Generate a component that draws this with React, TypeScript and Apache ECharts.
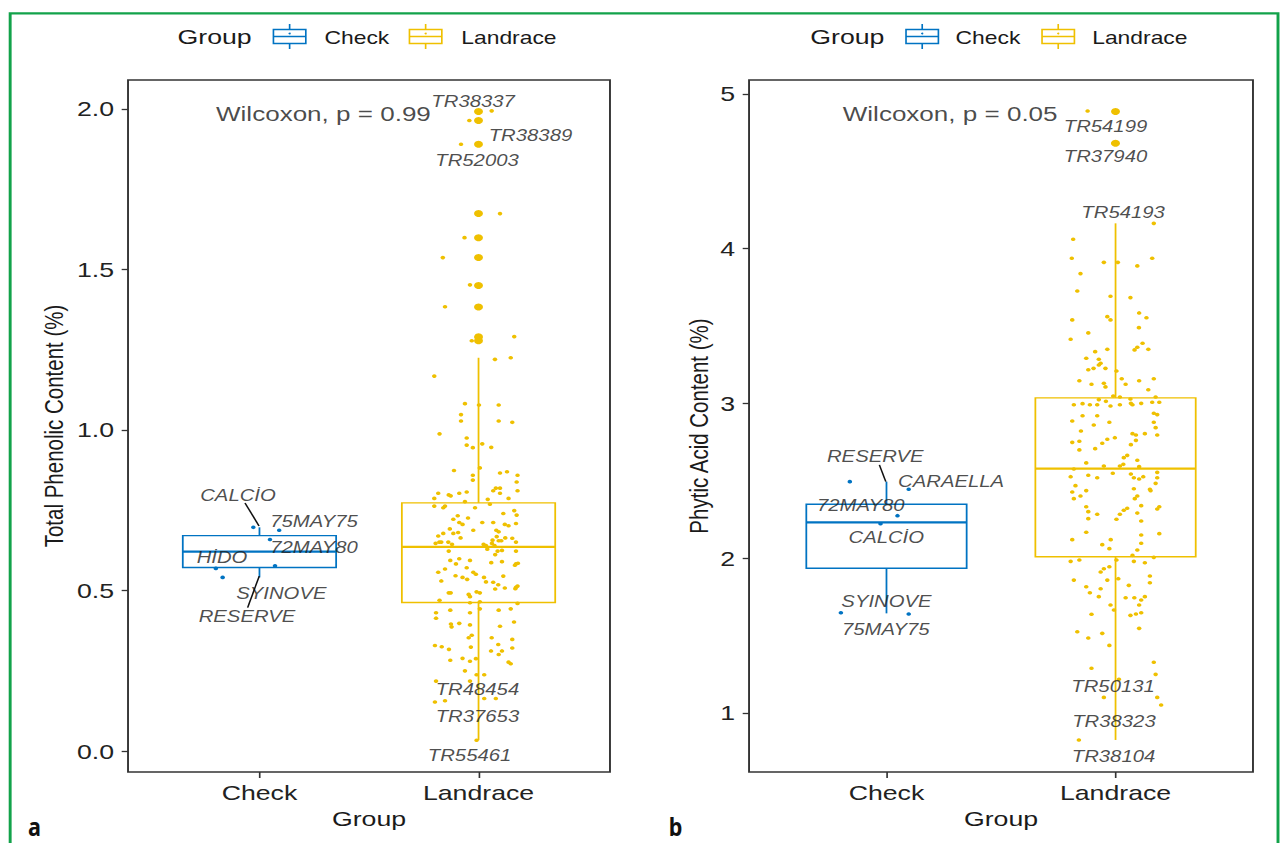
import React, { useEffect, useRef } from "react";
import * as echarts from "echarts";

// The reference figure is horizontally stretched; the chart is drawn at
// natural proportions and stretched by CSS to match.
const STRETCH = 1.27;
const PAGE_W = 1281;
const PAGE_H = 843;
const CHART_W = PAGE_W / STRETCH;

const FONT = "'Liberation Sans', Arial, Helvetica, sans-serif";
const groups = ["Check", "Landrace"];
const groupColors = ["#0073C2", "#EFC000"];
const xRange = [0.4, 2.6];
const xTicks = [1, 2];

// ---------------- Panel a: Total Phenolic Content ----------------
const phenolTitle = "Total Phenolic Content (%)";
const phenolRange = [-0.065, 2.09];
const phenolTicks = [0, 0.5, 1, 1.5, 2];
// [min, Q1, median, Q3, max] per group
const phenolCheckBox = [0.541, 0.572, 0.621, 0.671, 0.697];
const phenolLandraceBox = [0.034, 0.463, 0.636, 0.773, 1.225];
const phenolOutliers = [1.992, 1.964, 1.89, 1.674, 1.599, 1.537, 1.45, 1.383, 1.29, 1.278];
// [jitter offset, value]
const phenolCheckPts = [
  [-0.028, 0.697], [0.09, 0.688], [0.048, 0.659], [-0.199, 0.569], [-0.168, 0.541], [0.071, 0.577],
];
const phenolLandracePts = [
  [0.06, 1.994], [-0.042, 1.964], [-0.08, 1.89], [0.098, 1.674], [-0.064, 1.599], [-0.163, 1.537], [-0.039, 1.452], [-0.153, 1.384], [0.163, 1.291], [-0.031, 1.278],
  [0.075, 1.22], [0.147, 1.225], [-0.202, 1.168], [-0.062, 1.082], [0.002, 1.078], [0.092, 1.078], [-0.08, 1.048], [-0.08, 1.028], [0.092, 1.028], [0.154, 1.024],
  [-0.178, 0.988], [-0.054, 0.975], [-0.054, 0.953], [-0.026, 0.945], [0.017, 0.957], [0.058, 0.946], [-0.112, 0.874], [0.006, 0.882], [-0.026, 0.859], [-0.026, 0.844],
  [0.098, 0.866], [0.13, 0.87], [0.178, 0.859], [0.174, 0.838], [0.178, 0.811], [0.067, 0.811], [0.079, 0.819], [0.098, 0.819], [0.098, 0.803], [0.137, 0.787],
  [0.042, 0.784], [0.052, 0.769], [-0.184, 0.803], [-0.202, 0.787], [-0.136, 0.798], [-0.127, 0.795], [-0.088, 0.803], [-0.054, 0.807], [-0.202, 0.763], [-0.161, 0.758],
  [-0.153, 0.763], [-0.062, 0.777], [-0.016, 0.758], [0.113, 0.74], [0.163, 0.749], [0.174, 0.735], [-0.095, 0.733], [-0.115, 0.722], [-0.048, 0.726], [-0.088, 0.712],
  [-0.073, 0.706], [0.017, 0.712], [0.067, 0.712], [0.12, 0.706], [0.137, 0.702], [0.171, 0.709], [-0.131, 0.692], [-0.024, 0.688], [0.081, 0.688], [0.092, 0.683],
  [-0.115, 0.678], [-0.093, 0.681], [-0.161, 0.678], [-0.184, 0.67], [-0.082, 0.664], [0.083, 0.668], [0.122, 0.664], [0.064, 0.657], [0.092, 0.655], [0.104, 0.655],
  [0.154, 0.663], [0.171, 0.651], [-0.196, 0.647], [-0.179, 0.651], [-0.17, 0.651], [-0.138, 0.651], [-0.121, 0.644], [0.023, 0.644], [0.034, 0.64], [0.061, 0.647],
  [0.073, 0.64], [-0.136, 0.623], [0.04, 0.629], [0.087, 0.623], [0.107, 0.625], [0.171, 0.623], [0.076, 0.612], [-0.129, 0.594], [-0.039, 0.594], [-0.103, 0.583],
  [-0.088, 0.599], [0.058, 0.587], [0.107, 0.59], [0.171, 0.583], [0.18, 0.585], [0.166, 0.579], [-0.153, 0.567], [-0.054, 0.571], [-0.184, 0.557], [-0.024, 0.557],
  [-0.012, 0.551], [-0.105, 0.546], [-0.073, 0.541], [-0.052, 0.535], [0.025, 0.541], [0.034, 0.527], [0.113, 0.545], [-0.17, 0.53], [0.067, 0.526], [0.09, 0.518],
  [0.12, 0.508], [0.076, 0.505], [0.171, 0.51], [0.178, 0.514], [0.168, 0.506], [-0.136, 0.493], [-0.127, 0.493], [-0.045, 0.488], [-0.009, 0.496], [0.006, 0.493],
  [-0.039, 0.481], [-0.178, 0.47], [-0.039, 0.462], [0.006, 0.465], [0.178, 0.46], [-0.194, 0.431], [-0.129, 0.439], [-0.039, 0.431], [0.006, 0.443], [0.092, 0.439],
  [0.147, 0.443], [-0.194, 0.414], [-0.126, 0.396], [-0.123, 0.387], [-0.088, 0.398], [-0.039, 0.393], [0.098, 0.389], [0.162, 0.402], [-0.031, 0.361], [-0.045, 0.353],
  [0.06, 0.353], [0.09, 0.332], [0.154, 0.348], [-0.199, 0.329], [-0.168, 0.325], [-0.135, 0.317], [-0.035, 0.324], [0.057, 0.312], [0.107, 0.312], [0.154, 0.321],
  [0.092, 0.301], [-0.129, 0.283], [-0.073, 0.289], [-0.039, 0.28], [-0.012, 0.288], [0.137, 0.277], [0.147, 0.272], [-0.062, 0.25], [-0.009, 0.238], [0.026, 0.238],
  [-0.194, 0.218], [-0.039, 0.218], [0.026, 0.164], [0.079, 0.164], [-0.199, 0.153], [-0.153, 0.157], [-0.009, 0.034],
];
const phenolLabelNames = ["CALCİO", "75MAY75", "72MAY80", "HİDO", "SYINOVE", "RESERVE", "TR38337", "TR38389", "TR52003", "TR48454", "TR37653", "TR55461"];
const phenolLabelAt = [
  [0.902, 0.796], [1.249, 0.717], [1.249, 0.636], [0.829, 0.604], [1.1, 0.493], [0.943, 0.421],
  [1.975, 2.023], [2.237, 1.919], [1.993, 1.841], [1.995, 0.192], [1.995, 0.107], [1.959, -0.012],
];
// [x1, y1, x2, y2]
const phenolLeaders = [
  [0.934, 0.773, 0.998, 0.701],
  [0.999, 0.545, 0.946, 0.447],
];
const phenolTest = "Wilcoxon, p = 0.99";
const phenolTestAt = [1.292, 1.983];

// ---------------- Panel b: Phytic Acid Content ----------------
const phyticTitle = "Phytic Acid Content (%)";
const phyticRange = [0.619, 5.09];
const phyticTicks = [1, 2, 3, 4, 5];
const phyticCheckBox = [1.644, 1.935, 2.232, 2.349, 2.495];
const phyticLandraceBox = [0.826, 2.01, 2.579, 3.036, 4.164];
const phyticOutliers = [4.886, 4.681];
const phyticCheckPts = [
  [-0.16, 2.495], [0.097, 2.446], [0.048, 2.275], [-0.026, 2.223], [-0.199, 1.648], [0.097, 1.64],
];
const phyticLandracePts = [
  [-0.122, 4.89], [-0.01, 4.681], [0.167, 4.164], [-0.185, 4.061], [-0.191, 3.938], [-0.051, 3.912], [0.01, 3.912], [0.16, 3.938], [0.095, 3.889], [-0.153, 3.839],
  [-0.167, 3.727], [-0.022, 3.693], [0.065, 3.684], [-0.189, 3.54], [-0.036, 3.561], [-0.022, 3.54], [0.103, 3.585], [0.135, 3.554], [0.102, 3.49], [-0.119, 3.456],
  [-0.196, 3.415], [0.118, 3.389], [0.095, 3.363], [0.083, 3.346], [0.143, 3.35], [-0.036, 3.35], [-0.089, 3.335], [-0.128, 3.292], [-0.073, 3.286], [-0.065, 3.26],
  [-0.073, 3.249], [-0.096, 3.227], [-0.119, 3.218], [-0.044, 3.227], [0.004, 3.21], [-0.158, 3.147], [-0.105, 3.124], [-0.051, 3.131], [-0.044, 3.107], [0.027, 3.16],
  [0.044, 3.124], [0.103, 3.147], [0.167, 3.16], [0.143, 3.089], [-0.01, 3.048], [-0.073, 3.025], [0.019, 3.042], [-0.042, 3.014], [0.065, 3.029], [0.175, 3.042],
  [-0.182, 2.992], [-0.144, 2.999], [-0.112, 2.992], [-0.08, 2.992], [-0.022, 2.984], [0.019, 2.992], [0.067, 3.001], [0.074, 2.992], [0.112, 3.001], [0.16, 3.008],
  [0.191, 3.008], [-0.189, 2.887], [-0.144, 2.921], [-0.08, 2.921], [-0.027, 2.879], [-0.095, 2.861], [0.167, 2.937], [0.182, 2.928], [0.167, 2.879], [0.175, 2.844],
  [-0.151, 2.822], [0.074, 2.805], [0.089, 2.796], [0.128, 2.805], [0.182, 2.796], [-0.036, 2.769], [-0.003, 2.779], [-0.189, 2.749], [-0.158, 2.756], [0.089, 2.762],
  [-0.058, 2.743], [0.067, 2.734], [-0.158, 2.7], [-0.089, 2.708], [0.051, 2.665], [0.036, 2.65], [0.095, 2.633], [-0.128, 2.616], [-0.051, 2.596], [0.019, 2.596],
  [0.034, 2.607], [0.103, 2.592], [-0.182, 2.577], [-0.196, 2.527], [-0.119, 2.536], [-0.08, 2.52], [-0.012, 2.549], [0.067, 2.544], [0.08, 2.52], [0.103, 2.512],
  [0.121, 2.527], [0.182, 2.555], [0.182, 2.52], [-0.175, 2.469], [0.08, 2.449], [0.15, 2.446], [0.175, 2.484], [-0.189, 2.428], [-0.128, 2.437], [-0.153, 2.402],
  [-0.182, 2.385], [0.095, 2.402], [0.084, 2.385], [0.153, 2.437], [-0.128, 2.333], [-0.119, 2.301], [-0.119, 2.256], [-0.08, 2.284], [0.004, 2.252], [0.019, 2.284],
  [0.036, 2.31], [0.051, 2.323], [0.095, 2.292], [0.112, 2.34], [0.112, 2.241], [0.182, 2.318], [0.191, 2.333], [-0.128, 2.168], [0.191, 2.159], [-0.189, 2.12],
  [-0.058, 2.088], [-0.021, 2.12], [-0.027, 2.062], [0.112, 2.15], [0.112, 2.097], [0.095, 2.053], [0.074, 2.019], [-0.196, 1.98], [-0.158, 1.989], [0.004, 1.989],
  [0.08, 1.98], [0.128, 1.971], [0.167, 2.006], [-0.027, 1.945], [-0.051, 1.932], [-0.065, 1.911], [-0.182, 1.859], [-0.036, 1.859], [0.012, 1.868], [0.15, 1.885],
  [0.15, 1.842], [0.058, 1.825], [-0.128, 1.816], [-0.065, 1.803], [-0.112, 1.777], [-0.073, 1.752], [0.044, 1.745], [0.082, 1.745], [0.112, 1.73], [0.128, 1.752],
  [0.103, 1.698], [-0.022, 1.698], [-0.007, 1.666], [0.065, 1.631], [0.089, 1.64], [0.112, 1.648], [-0.105, 1.638], [0.103, 1.547], [-0.167, 1.525], [-0.119, 1.485],
  [-0.058, 1.515], [-0.027, 1.437], [0.167, 1.328], [0.175, 1.25], [-0.105, 1.289], [0.015, 1.218], [-0.051, 1.101], [0.182, 1.101], [0.199, 1.052], [-0.16, 0.826],
];
const phyticLabelNames = ["RESERVE", "CARAELLA", "72MAY80", "CALCİO", "SYINOVE", "75MAY75", "TR54199", "TR37940", "TR54193", "TR50131", "TR38323", "TR38104"];
const phyticLabelAt = [
  [0.951, 2.661], [1.282, 2.499], [0.888, 2.34], [0.999, 2.135], [1.0, 1.722], [0.997, 1.543],
  [1.956, 4.789], [1.956, 4.595], [2.033, 4.236], [1.989, 1.17], [1.993, 0.944], [1.991, 0.722],
];
const phyticLeaders = [[0.969, 2.603, 0.997, 2.495]];
const phyticTest = "Wilcoxon, p = 0.05";
const phyticTestAt = [1.278, 4.869];

// ---------------- layout (chart px, before stretch) ----------------
const BOX_HALF = 0.35;
const panels = [
  {
    grid: { left: 100.8, top: 80, width: 379.5, height: 692 },
    nameGap: 48,
    title: phenolTitle, range: phenolRange, ticks: phenolTicks, fmt: (v: number) => v.toFixed(1),
    boxes: [phenolCheckBox, phenolLandraceBox], outliers: phenolOutliers,
    pts: [phenolCheckPts, phenolLandracePts],
    labelNames: phenolLabelNames, labelAt: phenolLabelAt, leaders: phenolLeaders,
    test: phenolTest, testAt: phenolTestAt,
    legend: { titleX: 139.8, iconX: [215.3, 322.4], textX: [255.5, 363.2] },
    letter: "a", letterX: 22,
  },
  {
    grid: { left: 589.8, top: 80, width: 396.8, height: 692 },
    nameGap: 29,
    title: phyticTitle, range: phyticRange, ticks: phyticTicks, fmt: (v: number) => String(Math.round(v)),
    boxes: [phyticCheckBox, phyticLandraceBox], outliers: phyticOutliers,
    pts: [phyticCheckPts, phyticLandracePts],
    labelNames: phyticLabelNames, labelAt: phyticLabelAt, leaders: phyticLeaders,
    test: phyticTest, testAt: phyticTestAt,
    legend: { titleX: 638, iconX: [713.4, 820.5], textX: [752.4, 860] },
    letter: "b", letterX: 526.5,
  },
];

function legendGraphics(lay: any) {
  const els: any[] = [];
  els.push({
    type: "text", x: lay.titleX, y: 37, silent: true,
    style: { text: "Group", fontSize: 21, fontFamily: FONT, fill: "#1a1a1a", align: "left", verticalAlign: "middle" },
  });
  groups.forEach((g, k) => {
    const col = groupColors[k];
    const x0 = lay.iconX[k];
    const w = 25.5;
    const cx = x0 + w / 2;
    els.push({ type: "line", silent: true, shape: { x1: cx, y1: 24, x2: cx, y2: 29.5 }, style: { stroke: col, lineWidth: 1.3 } });
    els.push({ type: "line", silent: true, shape: { x1: cx, y1: 43.5, x2: cx, y2: 49 }, style: { stroke: col, lineWidth: 1.3 } });
    els.push({ type: "rect", silent: true, shape: { x: x0, y: 29.5, width: w, height: 14 }, style: { fill: "#fff", stroke: col, lineWidth: 1.3 } });
    els.push({ type: "line", silent: true, shape: { x1: x0, y1: 36.5, x2: x0 + w, y2: 36.5 }, style: { stroke: col, lineWidth: 1.6 } });
    els.push({ type: "circle", silent: true, shape: { cx: cx, cy: 33.5, r: 0.9 }, style: { fill: col } });
    els.push({
      type: "text", x: lay.textX[k], y: 37, silent: true,
      style: { text: g, fontSize: 18, fontFamily: FONT, fill: "#1a1a1a", align: "left", verticalAlign: "middle" },
    });
  });
  return els;
}

function buildOption() {
  const grid: any[] = [];
  const xAxis: any[] = [];
  const yAxis: any[] = [];
  const series: any[] = [];
  const graphic: any[] = [];

  graphic.push({
    type: "rect", silent: true, z: -10,
    shape: { x: 8.0, y: 13.3, width: 998.3, height: 900 },
    style: { fill: "none", stroke: "#12a24a", lineWidth: 2.3 },
  });

  panels.forEach((p, i) => {
    grid.push({
      ...p.grid, show: true, borderColor: "#333", borderWidth: 1.5, backgroundColor: "transparent",
      containLabel: false, outerBoundsMode: "none",
    });
    xAxis.push({
      type: "value", gridIndex: i, min: xRange[0], max: xRange[1], position: "bottom",
      axisLine: { show: false, onZero: false }, splitLine: { show: false },
      axisTick: { show: true, customValues: xTicks, length: 6, lineStyle: { color: "#333", width: 1.3 } },
      axisLabel: {
        customValues: xTicks, margin: 10, fontSize: 21, color: "#222", fontFamily: FONT,
        formatter: (v: number) => groups[Math.round(v) - 1] ?? "",
      },
      name: "Group", nameLocation: "middle", nameGap: 35,
      nameTextStyle: { fontSize: 21, color: "#1a1a1a", fontFamily: FONT },
    });
    yAxis.push({
      type: "value", gridIndex: i, min: p.range[0], max: p.range[1], position: "left",
      axisLine: { show: false, onZero: false }, splitLine: { show: false },
      axisTick: { show: true, customValues: p.ticks, length: 5, lineStyle: { color: "#333", width: 1.3 } },
      axisLabel: { customValues: p.ticks, margin: 11, fontSize: 21, color: "#222", fontFamily: FONT, formatter: p.fmt },
      name: p.title, nameLocation: "middle", nameGap: p.nameGap, nameRotate: 90,
      nameTextStyle: { fontSize: 20.5, color: "#1a1a1a", fontFamily: FONT },
    });

    const ax = { xAxisIndex: i, yAxisIndex: i };

    series.push({
      type: "custom", ...ax, clip: false, z: 2, silent: true,
      data: p.boxes.map((b, g) => [g + 1, ...b, g]),
      encode: { x: 0, y: [1, 2, 3, 4, 5] },
      renderItem: (_params: any, api: any) => {
        const x = api.value(0);
        const col = groupColors[api.value(6)];
        const pt = (v: number) => api.coord([x, v]);
        const lo = pt(api.value(1));
        const q1 = pt(api.value(2));
        const md = pt(api.value(3));
        const q3 = pt(api.value(4));
        const hi = pt(api.value(5));
        const xl = api.coord([x - BOX_HALF, api.value(3)])[0];
        const xr = api.coord([x + BOX_HALF, api.value(3)])[0];
        const ls = { stroke: col, lineWidth: 1.4 };
        return {
          type: "group",
          children: [
            { type: "line", shape: { x1: hi[0], y1: hi[1], x2: q3[0], y2: q3[1] }, style: ls },
            { type: "line", shape: { x1: q1[0], y1: q1[1], x2: lo[0], y2: lo[1] }, style: ls },
            { type: "rect", shape: { x: xl, y: q3[1], width: xr - xl, height: q1[1] - q3[1] }, style: { ...ls, fill: "rgba(255,255,255,0)" } },
            { type: "line", shape: { x1: xl, y1: md[1], x2: xr, y2: md[1] }, style: { stroke: col, lineWidth: 2.2 } },
          ],
        };
      },
    });

    p.pts.forEach((arr, g) => {
      series.push({
        type: "scatter", ...ax, z: 3, silent: true, symbol: "circle", symbolSize: 3.6,
        itemStyle: { color: groupColors[g], opacity: 1 },
        data: arr.map(([o, v]) => [g + 1 + o, v]),
      });
    });

    series.push({
      type: "scatter", ...ax, z: 3, silent: true, symbol: "circle", symbolSize: 7,
      itemStyle: { color: groupColors[1], opacity: 1 },
      data: p.outliers.map((v) => [2, v]),
    });

    // label leader segments, one series per segment
    p.leaders.forEach((seg) => {
      series.push({
        type: "custom", ...ax, clip: false, z: 6, silent: true,
        data: [seg],
        encode: { x: [0, 2], y: [1, 3] },
        renderItem: (_params: any, api: any) => {
          const a = api.coord([api.value(0), api.value(1)]);
          const b = api.coord([api.value(2), api.value(3)]);
          return {
            type: "line",
            shape: { x1: a[0], y1: a[1], x2: b[0], y2: b[1] },
            style: { stroke: "#111", lineWidth: 1.25 },
          };
        },
      });
    });

    series.push({
      type: "scatter", ...ax, z: 5, silent: true, symbolSize: 1, clip: false,
      itemStyle: { color: "rgba(0,0,0,0)" },
      label: {
        show: true, position: "inside", formatter: (d: any) => d.name,
        fontSize: 16, fontStyle: "italic", color: "#1e1e1e", fontFamily: FONT,
      },
      data: p.labelNames.map((n, k) => ({ name: n, value: p.labelAt[k] })),
    });

    series.push({
      type: "scatter", ...ax, z: 5, silent: true, symbolSize: 1, clip: false,
      itemStyle: { color: "rgba(0,0,0,0)" },
      label: {
        show: true, position: "inside", formatter: (d: any) => d.name,
        fontSize: 20.5, color: "#1a1a1a", fontFamily: FONT,
      },
      data: [{ name: p.test, value: p.testAt }],
    });

    graphic.push(...legendGraphics(p.legend));
    graphic.push({
      type: "text", x: p.letterX, y: 826, scaleX: 0.68, silent: true,
      style: {
        text: p.letter, fontSize: 25, fontWeight: "bold", fontFamily: "'Noto Sans', 'DejaVu Sans', sans-serif",
        fill: "#111", align: "left", verticalAlign: "middle",
      },
    });
  });

  return { animation: false, backgroundColor: "transparent", grid, xAxis, yAxis, series, graphic };
}

export default function App() {
  const ref = useRef<HTMLDivElement>(null);
  useEffect(() => {
    if (!ref.current) return;
    const chart = echarts.init(ref.current, null, { renderer: "svg", width: CHART_W, height: PAGE_H });
    chart.setOption(buildOption() as any);
    return () => chart.dispose();
  }, []);
  return (
    <div style={{ position: "fixed", left: 0, top: 0, width: PAGE_W, height: PAGE_H, overflow: "hidden", background: "#fff" }}>
      <div
        ref={ref}
        style={{ width: CHART_W, height: PAGE_H, transform: `scaleX(${STRETCH})`, transformOrigin: "0 0" }}
      />
    </div>
  );
}
